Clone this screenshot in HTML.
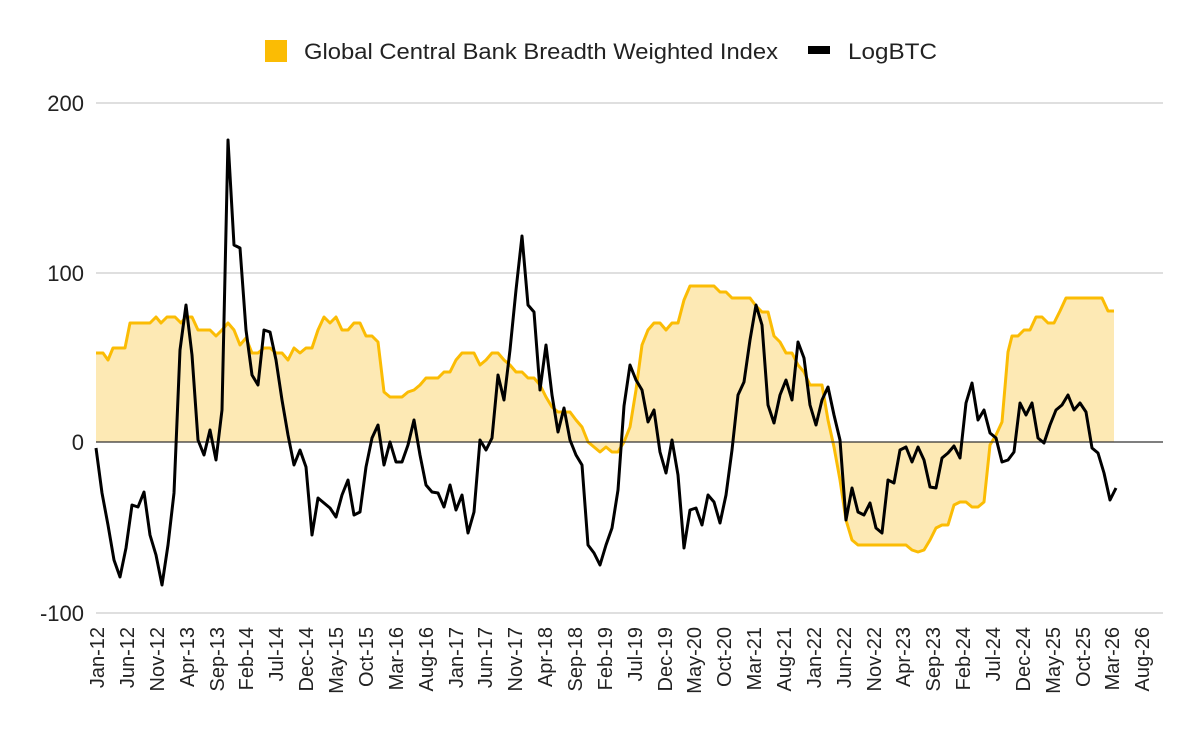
<!DOCTYPE html>
<html><head><meta charset="utf-8"><style>
html,body{margin:0;padding:0;background:#fff;}
svg{display:block;font-family:"Liberation Sans",Arial,sans-serif;}
</style></head><body>
<svg width="1200" height="742" viewBox="0 0 1200 742" xmlns="http://www.w3.org/2000/svg">
<rect width="1200" height="742" fill="#fff"/>
<g stroke="#cccccc" stroke-width="1.3">
<line x1="96" y1="103" x2="1163" y2="103"/>
<line x1="96" y1="273" x2="1163" y2="273"/>
<line x1="96" y1="613" x2="1163" y2="613"/>
</g>
<g font-size="22" fill="#222" text-anchor="end">
<text x="84" y="111">200</text>
<text x="84" y="281">100</text>
<text x="84" y="450">0</text>
<text x="84" y="621">-100</text>
</g>
<rect x="265" y="40" width="22" height="22" fill="#fbbc04"/>
<text x="304" y="59" font-size="22" fill="#222" textLength="474" lengthAdjust="spacingAndGlyphs">Global Central Bank Breadth Weighted Index</text>
<rect x="808" y="46" width="22" height="8" fill="#000"/>
<text x="848" y="59" font-size="22" fill="#222" textLength="89" lengthAdjust="spacingAndGlyphs">LogBTC</text>
<polygon fill="#fde9b4" stroke="none" points="96,442 96,353 103,353 108,360 113,348 125,348 130,323 150,323 156,317 161,323 167,317 175,317 181,323 186,317 192,317 198,330 210,330 216,336 222,330 228,323 234,330 240,345 246,338 252,353 258,353 264,348 270,348 276,353 282,353 288,360 294,348 300,353 306,348 312,348 318,330 324,317 330,323 336,317 342,330 348,330 354,323 360,323 366,336 372,336 378,342 384,392 390,397 402,397 408,392 414,390 420,385 426,378 438,378 444,372 450,372 456,360 462,353 474,353 480,365 486,360 492,353 498,353 504,360 510,365 516,372 522,372 528,378 534,378 540,385 546,397 552,407 558,412 570,412 576,420 582,427 588,442 594,447 600,452 606,447 612,452 618,452 624,442 630,427 636,390 642,345 648,330 654,323 660,323 666,330 672,323 678,323 684,300 690,286 714,286 720,292 726,292 732,298 750,298 756,306 762,312 768,312 774,336 780,342 786,353 792,353 798,365 804,372 810,385 822,385 828,420 834,447 840,480 846,520 852,540 858,545 906,545 912,550 918,552 924,550 930,540 936,528 942,525 948,525 954,505 960,502 966,502 972,507 978,507 984,502 990,445 996,435 1002,422 1008,352 1012,336 1018,336 1024,330 1030,330 1036,317 1042,317 1048,323 1054,323 1060,311 1066,298 1102,298 1108,311 1114,311 1114,442"/>
<polyline fill="none" stroke="#fbbc04" stroke-width="3" stroke-linejoin="round" points="96,353 103,353 108,360 113,348 125,348 130,323 150,323 156,317 161,323 167,317 175,317 181,323 186,317 192,317 198,330 210,330 216,336 222,330 228,323 234,330 240,345 246,338 252,353 258,353 264,348 270,348 276,353 282,353 288,360 294,348 300,353 306,348 312,348 318,330 324,317 330,323 336,317 342,330 348,330 354,323 360,323 366,336 372,336 378,342 384,392 390,397 402,397 408,392 414,390 420,385 426,378 438,378 444,372 450,372 456,360 462,353 474,353 480,365 486,360 492,353 498,353 504,360 510,365 516,372 522,372 528,378 534,378 540,385 546,397 552,407 558,412 570,412 576,420 582,427 588,442 594,447 600,452 606,447 612,452 618,452 624,442 630,427 636,390 642,345 648,330 654,323 660,323 666,330 672,323 678,323 684,300 690,286 714,286 720,292 726,292 732,298 750,298 756,306 762,312 768,312 774,336 780,342 786,353 792,353 798,365 804,372 810,385 822,385 828,420 834,447 840,480 846,520 852,540 858,545 906,545 912,550 918,552 924,550 930,540 936,528 942,525 948,525 954,505 960,502 966,502 972,507 978,507 984,502 990,445 996,435 1002,422 1008,352 1012,336 1018,336 1024,330 1030,330 1036,317 1042,317 1048,323 1054,323 1060,311 1066,298 1102,298 1108,311 1114,311"/>
<line x1="96" y1="442" x2="1163" y2="442" stroke="#333" stroke-width="1.3"/>
<polyline fill="none" stroke="#000" stroke-width="3" stroke-linejoin="round" points="96,448 102,493 108,525 114,560 120,577 126,548 132,505 138,507 144,492 150,535 156,555 162,585 168,545 174,493 180,350 186,305 192,355 198,440 204,455 210,430 216,460 222,410 228,140 234,245 240,248 246,330 252,375 258,385 264,330 270,332 276,360 282,400 288,435 294,465 300,450 306,467 312,535 318,498 324,503 330,508 336,517 342,495 348,480 354,515 360,512 366,467 372,438 378,425 384,465 390,442 396,462 402,462 408,445 414,420 420,455 426,485 432,492 438,493 444,507 450,485 456,510 462,495 468,533 474,512 480,440 486,450 492,438 498,375 504,400 510,350 516,290 522,236 528,305 534,312 540,390 546,345 552,395 558,432 564,408 570,440 576,455 582,465 588,545 594,553 600,565 606,545 612,528 618,490 624,406 630,365 636,380 642,390 648,422 654,410 660,452 666,473 672,440 678,475 684,548 690,510 696,508 702,525 708,495 714,502 720,523 726,495 732,450 738,395 744,382 750,340 756,305 762,325 768,405 774,423 780,395 786,380 792,400 798,342 804,358 810,405 816,425 822,400 828,387 834,415 840,440 846,520 852,488 858,512 864,515 870,503 876,528 882,533 888,480 894,483 900,450 906,447 912,462 918,447 924,460 930,487 936,488 942,458 948,453 954,446 960,458 966,403 972,383 978,420 984,410 990,433 996,438 1002,462 1008,460 1014,452 1020,403 1026,415 1032,403 1038,438 1044,443 1050,425 1056,410 1062,405 1068,395 1074,410 1080,403 1086,412 1092,448 1098,453 1104,473 1110,500 1116,488"/>
<g font-size="20" fill="#222" text-anchor="end">
<text transform="translate(104,627) rotate(-90)">Jan-12</text>
<text transform="translate(134,627) rotate(-90)">Jun-12</text>
<text transform="translate(164,627) rotate(-90)">Nov-12</text>
<text transform="translate(194,627) rotate(-90)">Apr-13</text>
<text transform="translate(224,627) rotate(-90)">Sep-13</text>
<text transform="translate(253,627) rotate(-90)">Feb-14</text>
<text transform="translate(283,627) rotate(-90)">Jul-14</text>
<text transform="translate(313,627) rotate(-90)">Dec-14</text>
<text transform="translate(343,627) rotate(-90)">May-15</text>
<text transform="translate(373,627) rotate(-90)">Oct-15</text>
<text transform="translate(403,627) rotate(-90)">Mar-16</text>
<text transform="translate(433,627) rotate(-90)">Aug-16</text>
<text transform="translate(463,627) rotate(-90)">Jan-17</text>
<text transform="translate(492,627) rotate(-90)">Jun-17</text>
<text transform="translate(522,627) rotate(-90)">Nov-17</text>
<text transform="translate(552,627) rotate(-90)">Apr-18</text>
<text transform="translate(582,627) rotate(-90)">Sep-18</text>
<text transform="translate(612,627) rotate(-90)">Feb-19</text>
<text transform="translate(642,627) rotate(-90)">Jul-19</text>
<text transform="translate(672,627) rotate(-90)">Dec-19</text>
<text transform="translate(701,627) rotate(-90)">May-20</text>
<text transform="translate(731,627) rotate(-90)">Oct-20</text>
<text transform="translate(761,627) rotate(-90)">Mar-21</text>
<text transform="translate(791,627) rotate(-90)">Aug-21</text>
<text transform="translate(821,627) rotate(-90)">Jan-22</text>
<text transform="translate(851,627) rotate(-90)">Jun-22</text>
<text transform="translate(881,627) rotate(-90)">Nov-22</text>
<text transform="translate(910,627) rotate(-90)">Apr-23</text>
<text transform="translate(940,627) rotate(-90)">Sep-23</text>
<text transform="translate(970,627) rotate(-90)">Feb-24</text>
<text transform="translate(1000,627) rotate(-90)">Jul-24</text>
<text transform="translate(1030,627) rotate(-90)">Dec-24</text>
<text transform="translate(1060,627) rotate(-90)">May-25</text>
<text transform="translate(1090,627) rotate(-90)">Oct-25</text>
<text transform="translate(1119,627) rotate(-90)">Mar-26</text>
<text transform="translate(1149,627) rotate(-90)">Aug-26</text>
</g>
</svg>
</body></html>
